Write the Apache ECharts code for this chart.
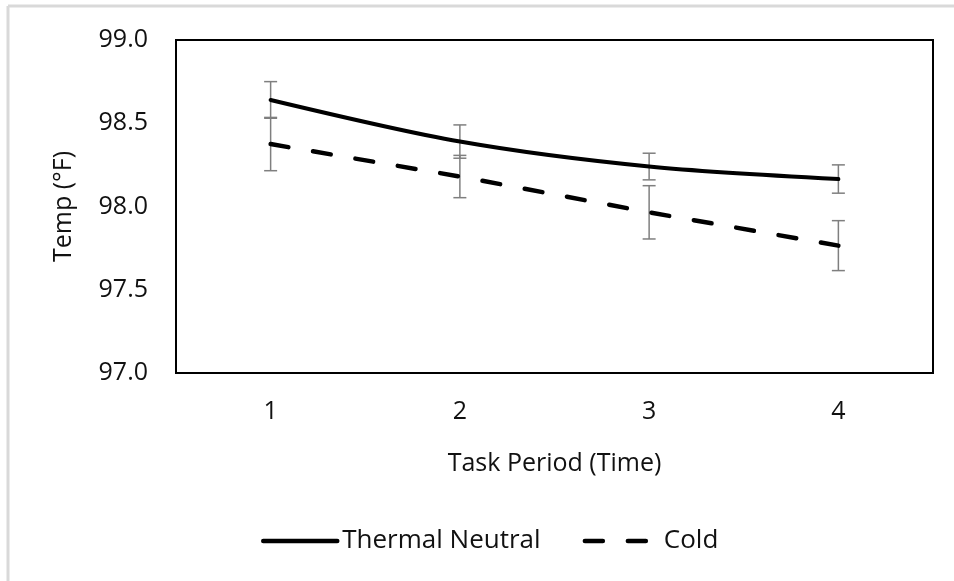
<!DOCTYPE html>
<html>
<head>
<meta charset="utf-8">
<script src="https://cdn.jsdelivr.net/npm/echarts@6/dist/echarts.min.js"></script>
<style>html,body{margin:0;padding:0;background:#fff}#c{width:954px;height:581px}</style>
</head>
<body>
<div id="c"></div>
<script>
const categories = ['1', '2', '3', '4'];
const neutralMean = [98.64, 98.39, 98.24, 98.165];
const neutralErr = [0.11, 0.10, 0.08, 0.085];
const coldMean = [98.375, 98.18, 97.965, 97.765];
const coldErr = [0.16, 0.127, 0.16, 0.15];
const yTicks = [97.0, 97.5, 98.0, 98.5, 99.0];

const FONT = '"Open Sans", "Noto Sans", sans-serif';
const FS = 25;
const chart = echarts.init(document.getElementById('c'), null, {renderer: 'canvas'});

function errData(mean, err) {
  return mean.map((m, i) => [i, m - err[i], m + err[i]]);
}
function errRender(params, api) {
  const lo = api.coord([api.value(0), api.value(1)]);
  const hi = api.coord([api.value(0), api.value(2)]);
  const w = 6.5;
  const style = {stroke: '#7f7f7f', lineWidth: 1.5};
  return {
    type: 'group',
    children: [
      {type: 'line', shape: {x1: hi[0], y1: hi[1], x2: lo[0], y2: lo[1]}, style},
      {type: 'line', shape: {x1: hi[0] - w, y1: hi[1], x2: hi[0] + w, y2: hi[1]}, style},
      {type: 'line', shape: {x1: lo[0] - w, y1: lo[1], x2: lo[0] + w, y2: lo[1]}, style}
    ]
  };
}

chart.setOption({
  animation: false,
  backgroundColor: '#fff',
  textStyle: {fontFamily: FONT},
  graphic: [
    {type: 'line', shape: {x1: 8, y1: 6, x2: 954, y2: 6}, style: {stroke: '#d9d9d9', lineWidth: 3}},
    {type: 'line', shape: {x1: 8, y1: 6, x2: 8, y2: 581}, style: {stroke: '#d9d9d9', lineWidth: 3}}
  ],
  grid: {left: 176, right: 21, top: 40, bottom: 208, show: true, borderColor: '#000', borderWidth: 2, backgroundColor: 'transparent'},
  legend: {
    bottom: 22, left: 256,
    itemWidth: 74, itemHeight: 14, itemGap: 42,
    itemStyle: {opacity: 0},
    lineStyle: {width: 4.5, cap: 'round'},
    textStyle: {fontSize: 26, color: '#111', fontFamily: FONT},
    data: ['Thermal Neutral', 'Cold']
  },
  xAxis: {
    type: 'category', data: categories, boundaryGap: true,
    axisLine: {show: false}, axisTick: {show: false},
    axisLabel: {fontSize: FS, color: '#111', margin: 26, fontFamily: FONT},
    name: 'Task Period (Time)', nameLocation: 'middle', nameGap: 78,
    nameTextStyle: {fontSize: FS, color: '#111', fontFamily: FONT}
  },
  yAxis: {
    type: 'value', min: yTicks[0], max: yTicks[yTicks.length - 1], interval: 0.5,
    axisLine: {show: false}, axisTick: {show: false}, splitLine: {show: false},
    axisLabel: {fontSize: FS, color: '#111', margin: 28, fontFamily: FONT, formatter: v => v.toFixed(1)},
    name: 'Temp (°F)', nameLocation: 'middle', nameRotate: 90, nameGap: 100,
    nameTextStyle: {fontSize: FS, color: '#111', fontFamily: FONT}
  },
  series: [
    {
      name: 'Thermal Neutral', type: 'line', data: neutralMean, smooth: 0.3,
      symbol: 'none', showSymbol: false, color: '#000',
      lineStyle: {color: '#000', width: 4, cap: 'round'}, z: 3
    },
    {
      name: 'Cold', type: 'line', data: coldMean,
      symbol: 'none', showSymbol: false, color: '#000',
      lineStyle: {color: '#000', width: 4.5, type: [18, 25], cap: 'round'}, z: 3
    },
    {type: 'custom', renderItem: errRender, data: errData(neutralMean, neutralErr), z: 2, silent: true},
    {type: 'custom', renderItem: errRender, data: errData(coldMean, coldErr), z: 2, silent: true}
  ]
});
</script>
</body>
</html>
